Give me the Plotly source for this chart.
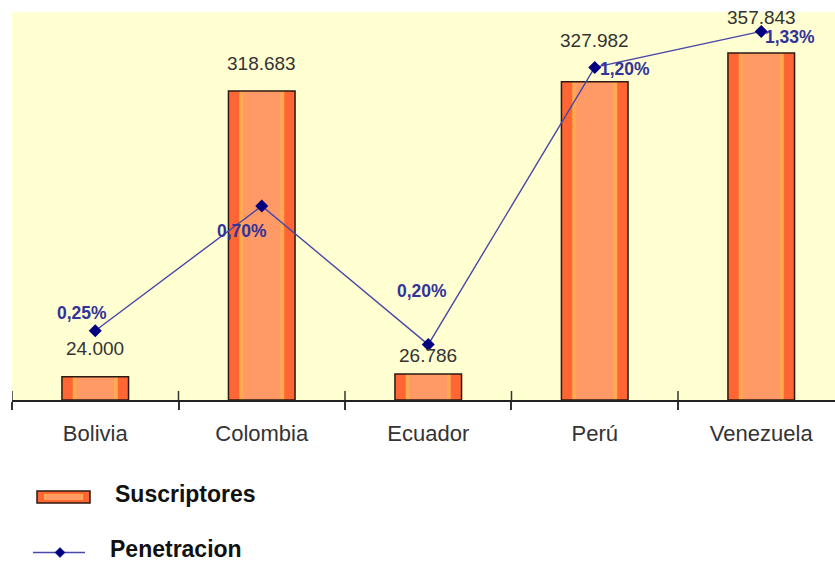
import plotly.graph_objects as go

# Data
paises = ["Bolivia", "Colombia", "Ecuador", "Perú", "Venezuela"]
suscriptores = [24000, 318683, 26786, 327982, 357843]
penetracion = [0.25, 0.70, 0.20, 1.20, 1.33]  # percent

# Label offsets (pixels)
dy_susc = [28, 27, 19, 41, 35]
off_pen = [(-13, -18), (-20, 25), (-6, -54), (30, 2), (29, 6)]

W, H = 835, 563
L, R, T, B = 12, 0, 12, 163
PW, PH = W - L - R, H - T - B
FONT = "Arial, Liberation Sans, sans-serif"


def px(x):
    return (x - L) / PW


def py(y):
    return (T + PH - y) / PH


fig = go.Figure()

# Bars: outer body, light stripe, light centre, outline on top
fig.add_trace(go.Bar(x=paises, y=suscriptores, width=0.40, marker=dict(color="#FF6633", line=dict(width=0)),
                     showlegend=False, hoverinfo="skip"))
fig.add_trace(go.Bar(x=paises, y=suscriptores, width=0.27, marker=dict(color="#FFAA50", line=dict(width=0)),
                     showlegend=False, hoverinfo="skip"))
fig.add_trace(go.Bar(x=paises, y=suscriptores, width=0.224, marker=dict(color="#FF9966", line=dict(width=0)),
                     showlegend=False, hoverinfo="skip"))
fig.add_trace(go.Bar(x=paises, y=suscriptores, width=0.40, name="Suscriptores",
                     marker=dict(color="rgba(0,0,0,0)", line=dict(color="#2a1a10", width=1.5)),
                     showlegend=False))

# Penetration line on secondary axis
fig.add_trace(go.Scatter(x=paises, y=penetracion, yaxis="y2", mode="lines+markers", name="Penetracion",
                         line=dict(color="#4848A8", width=1.4),
                         marker=dict(symbol="diamond", size=10, color="#000080"),
                         showlegend=False, cliponaxis=False))

annotations = []
for p, v, d in zip(paises, suscriptores, dy_susc):
    annotations.append(dict(x=p, y=v, xref="x", yref="y", text=f"{v:,}".replace(",", "."),
                            showarrow=False, yshift=d, font=dict(family=FONT, size=19, color="#333333")))
for p, v, (ox, oy) in zip(paises, penetracion, off_pen):
    annotations.append(dict(x=p, y=v, xref="x", yref="y2", text=f"{v:.2f}".replace(".", ",") + "%",
                            showarrow=False, xshift=ox, yshift=-oy,
                            font=dict(family=FONT, size=17.5, color="#333399", weight="bold")))

# Legend text
annotations.append(dict(x=px(113), y=py(494), xref="paper", yref="paper", xanchor="left", yanchor="middle",
                        text="Suscriptores", showarrow=False,
                        font=dict(family=FONT, size=23, color="#111111", weight="bold")))
annotations.append(dict(x=px(108), y=py(549), xref="paper", yref="paper", xanchor="left", yanchor="middle",
                        text="Penetracion", showarrow=False,
                        font=dict(family=FONT, size=23, color="#111111", weight="bold")))

shapes = []
# Upper halves of the category boundary ticks
for b in [-0.5, 0.5, 1.5, 2.5, 3.5]:
    shapes.append(dict(type="line", xref="x", yref="paper", x0=b, x1=b, ysizemode="pixel", yanchor=0,
                       y0=0, y1=9, line=dict(color="#333333", width=1.5)))

# Legend symbols
shapes.append(dict(type="rect", xref="paper", yref="paper", x0=px(37), x1=px(90), y0=py(491), y1=py(503),
                   fillcolor="#FF6633", line=dict(color="#2a1a10", width=1.5), layer="above"))
shapes.append(dict(type="rect", xref="paper", yref="paper", x0=px(44), x1=px(83), y0=py(494), y1=py(500),
                   fillcolor="#FFAA50", line=dict(width=0), layer="above"))
shapes.append(dict(type="rect", xref="paper", yref="paper", x0=px(46), x1=px(81), y0=py(495), y1=py(499.5),
                   fillcolor="#FF9966", line=dict(width=0), layer="above"))
shapes.append(dict(type="line", xref="paper", yref="paper", x0=px(33), x1=px(85), y0=py(552.5), y1=py(552.5),
                   line=dict(color="#4848A8", width=1.5), layer="above"))
cx, cy = 60, 552.5
shapes.append(dict(type="path", xref="paper", yref="paper", layer="above",
                   path=f"M {px(cx-5)} {py(cy)} L {px(cx)} {py(cy-5)} L {px(cx+5)} {py(cy)} L {px(cx)} {py(cy+5)} Z",
                   fillcolor="#000080", line=dict(color="#000080", width=0.5)))

fig.update_layout(
    width=W, height=H,
    margin=dict(l=L, r=R, t=T, b=B),
    paper_bgcolor="white",
    plot_bgcolor="#FFFFD2",
    barmode="overlay",
    showlegend=False,
    xaxis=dict(range=[-0.5, 4.443], showgrid=False, zeroline=False, showline=True, linecolor="#222222",
               linewidth=1.5, ticks="outside", ticklen=8, tickwidth=1.5, tickcolor="#333333",
               tickson="boundaries", ticklabelstandoff=13,
               tickfont=dict(family=FONT, size=22, color="#333333")),
    yaxis=dict(range=[0, 400000], visible=False, showgrid=False, zeroline=False),
    yaxis2=dict(range=[0, 1.4], overlaying="y", visible=False, showgrid=False, zeroline=False),
    annotations=annotations,
    shapes=shapes,
)

fig.write_html("out.html")
